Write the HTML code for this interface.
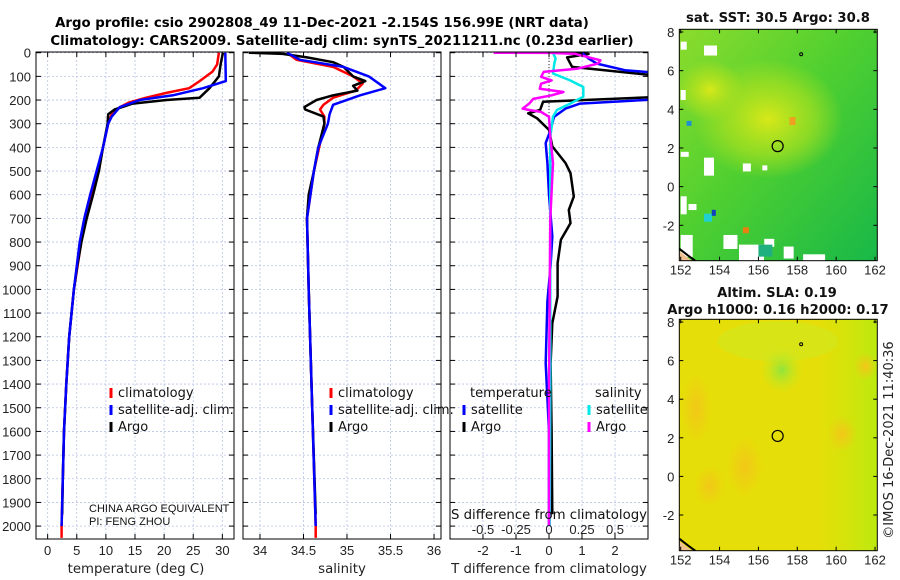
<!DOCTYPE html>
<html><head><meta charset="utf-8">
<style>
body{margin:0;background:#fff;}
svg{display:block;font-family:"Liberation Sans","DejaVu Sans",sans-serif;}
.dv{font-family:"DejaVu Sans","Liberation Sans",sans-serif;}
</style></head>
<body>
<svg id="fig" width="900" height="580" viewBox="0 0 900 580" xmlns="http://www.w3.org/2000/svg">
<defs>
<radialGradient id="sstYellow" cx="0.5" cy="0.5" r="0.5">
<stop offset="0" stop-color="#d8e818"/><stop offset="0.6" stop-color="#a8e020" stop-opacity="0.7"/><stop offset="1" stop-color="#a8e020" stop-opacity="0"/></radialGradient>
<linearGradient id="sstBase" x1="0" y1="0" x2="1" y2="1">
<stop offset="0" stop-color="#8cdc2c"/><stop offset="0.45" stop-color="#50d030"/><stop offset="1" stop-color="#18b848"/></linearGradient>
<radialGradient id="slaGreen" cx="0.5" cy="0.5" r="0.5">
<stop offset="0" stop-color="#90e43c"/><stop offset="1" stop-color="#c8ea20" stop-opacity="0"/></radialGradient>
<radialGradient id="slaOrange" cx="0.5" cy="0.5" r="0.5">
<stop offset="0" stop-color="#f2c818"/><stop offset="1" stop-color="#f2c818" stop-opacity="0"/></radialGradient>
<linearGradient id="slaRight" x1="0" y1="0" x2="1" y2="0">
<stop offset="0.7" stop-color="#c0ec10" stop-opacity="0"/><stop offset="1" stop-color="#b0ec10"/></linearGradient>
</defs>
<g id="titles" class="dv" font-weight="bold" font-size="13.3" text-anchor="middle">
<text x="322" y="27">Argo profile: csio 2902808_49 11-Dec-2021 -2.154S 156.99E (NRT data)</text>
<text x="342" y="45">Climatology: CARS2009. Satellite-adj clim: synTS_20211211.nc (0.23d earlier)</text>
</g>
<g id="p1"></g>
<g id="p2"></g>
<g id="p3"></g>
<g id="m1"></g>
<g id="m2"></g>
<text x="893" y="440" class="dv" transform="rotate(-90 893 440)" text-anchor="middle" font-size="13" fill="#222">©IMOS 16-Dec-2021 11:40:36</text>
</svg>
<script>
// ---- data ----
const depthTicks = [0,100,200,300,400,500,600,700,800,900,1000,1100,1200,1300,1400,1500,1600,1700,1800,1900,2000];
const tempTicks = [0,5,10,15,20,25,30];
const salTicks = [34,34.5,35,35.5,36];
const salTickLabels = ["34","34.5","35","35.5","36"];
const tdiffTicks = [-2,-1,0,1,2];
const sdiffTicks = [-0.5,-0.25,0,0.25,0.5];
const sdiffTickLabels = ["-0.5","-0.25","0","0.25","0.5"];

const tArgoDepth = [0,50,100,150,190,200,215,240,260,300,400,500,600,700,800,900,1000,1200,1400,1600,1800,1950];
const tArgo      = [30.1,29.7,29.4,27.8,26.1,20.4,14.6,11.5,10.4,10.3,9.5,8.8,7.8,6.7,5.8,5.1,4.5,3.7,3.2,2.8,2.6,2.5];
const tClimDepth = [0,50,80,120,150,170,190,210,230,260,300,400,500,700,1000,1200,1400,1600,1800,2000,2050];
const tClim      = [29.4,29.1,28.3,26.1,24.3,20.4,16.9,14.0,12.4,11.0,10.4,9.5,8.7,6.4,4.5,3.7,3.2,2.8,2.6,2.4,2.4];
const tSatDepth  = [0,120,150,180,200,230,270,300,400,500,600,700,800,1000,1200,1400,1600,1800,2000];
const tSat       = [30.5,30.6,26.7,21.5,15.8,12.4,11.0,10.4,9.5,8.4,7.3,6.3,5.5,4.5,3.7,3.2,2.8,2.6,2.4];

const sArgoDepth = [0,5,20,40,60,100,120,140,160,180,200,230,240,270,300,400,500,600,700,1000,1500,1950];
const sArgo      = [33.87,34.26,34.54,34.84,34.96,35.07,35.21,35.07,35.12,34.84,34.65,34.51,34.52,34.73,34.74,34.67,34.62,34.56,34.54,34.56,34.60,34.64];
const sClimDepth = [0,30,60,100,130,160,190,220,240,270,300,500,700,1000,1500,2000,2050];
const sClim      = [34.31,34.42,34.84,35.07,35.18,35.10,34.84,34.73,34.69,34.74,34.74,34.62,34.54,34.56,34.60,34.64,34.64];
const sSatDepth  = [0,30,60,100,150,180,220,260,300,400,500,700,1000,1500,2000];
const sSat       = [34.31,34.46,34.96,35.25,35.44,35.15,34.84,34.80,34.78,34.67,34.62,34.54,34.56,34.60,34.64];

const dTArgoDepth = [0,5,20,60,100,186,207,242,256,277,326,396,466,509,608,664,720,790,889,1030,1143,1312,1600,1950];
const dTArgo      = [0.2,1.2,0.55,0.7,3.5,3.5,-0.18,-0.27,-0.63,-0.36,0,0.1,0.5,0.65,0.75,0.6,0.65,0.36,0.26,0.26,0.1,0.05,0.08,0.1];
const dTSatDepth  = [0,25,46,74,88,195,215,236,271,326,382,466,600,776,900,1050,1312,1600,2000];
const dTSat       = [1.0,1.2,1.45,2.3,3.5,3.5,0.94,0.5,0.15,0.05,-0.1,-0.05,0,0.1,0.05,-0.05,-0.1,0,0];
const dSSatDepth  = [0,25,46,88,117,145,186,215,242,271,355,800,1400,2000];
const dSSat       = [0.03,0.05,0.04,0.03,0.16,0.26,0.26,0.16,0.06,0.03,0.01,0.01,0.01,0.005];
const dSArgoDepth = [0,1,5,32,46,67,81,102,117,131,152,166,180,195,215,236,242,250,271,355,466,700,1400,2000];
const dSArgo      = [-0.42,0.02,0.2,0.39,0.37,0.22,-0.04,-0.06,0.02,-0.06,-0.07,0.11,0.02,-0.12,-0.15,-0.2,-0.15,-0.06,0,0.01,0.03,0.01,0.0,0.0];

const argoLon = 156.99, argoLat = -2.154 + 4.25; // plotted position on map
const lonTicks = [152,154,156,158,160,162];
const latTicks = [-2,0,2,4,6,8];

// ---- helpers ----
const NS='http://www.w3.org/2000/svg';
function mk(tag, attrs, parent){const e=document.createElementNS(NS,tag);for(const k in attrs)e.setAttribute(k,attrs[k]);if(parent)parent.appendChild(e);return e;}
const Y0=52.7, YK=0.2367;
const yD = d => Y0 + d*YK;

function panel(g, x0, x1, xmin, xmax, gridXs, clipId){
  const xs = v => x0 + (v-xmin)/(xmax-xmin)*(x1-x0);
  const top=52, bot=539;
  const grid = mk('g',{stroke:'#b8c4e8','stroke-width':0.8,'stroke-dasharray':'2,2'},g);
  
  
  gridXs.forEach(v=>mk('line',{x1:xs(v),x2:xs(v),y1:top,y2:bot},grid));
  depthTicks.forEach(d=>mk('line',{x1:x0,x2:x1,y1:yD(d),y2:yD(d)},grid));
  const ticks = mk('g',{stroke:'#000','stroke-width':1},g);
  
  
  depthTicks.forEach(d=>{mk('line',{x1:x0,x2:x0+5,y1:yD(d),y2:yD(d)},ticks);mk('line',{x1:x1-5,x2:x1,y1:yD(d),y2:yD(d)},ticks);});
  const cp = mk('clipPath',{id:clipId},g); mk('rect',{x:x0,y:top,width:x1-x0,height:bot-top},cp);
  return {xs, top, bot, clip:'url(#'+clipId+')'};
}
function line(g, P, xsArr, dArr, color, w, name){
  let d='';
  for(let i=0;i<xsArr.length;i++){d+=(i?'L':'M')+P.xs(xsArr[i]).toFixed(1)+','+yD(dArr[i]).toFixed(1);}
  const p = mk('path',{d:d,fill:'none',stroke:color,'stroke-width':w,'stroke-linejoin':'round','clip-path':P.clip},g);
  
  
}
function frame(g,x0,x1,top,bot){const r=mk('rect',{x:x0,y:top,width:x1-x0,height:bot-top,fill:'none',stroke:'#000','stroke-width':1},g);}
function xlabels(g,P,vals,labels,y){vals.forEach((v,i)=>{const t=mk('text',{x:P.xs(v),y:y,'text-anchor':'middle','font-size':13,fill:'#222'},g);t.textContent=labels?labels[i]:String(v);});}
function xtickmarks(g,P,vals){vals.forEach(v=>{mk('line',{x1:P.xs(v),x2:P.xs(v),y1:P.bot,y2:P.bot-5,stroke:'#000'},g);mk('line',{x1:P.xs(v),x2:P.xs(v),y1:P.top,y2:P.top+5,stroke:'#000'},g);});}
function txt(g,x,y,s,size,name,extra){const t=mk('text',Object.assign({x:x,y:y,'font-size':size,fill:'#111'},extra||{}),g);t.textContent=s;return t;}
function legendItem(g,x,y,color,label,name){const gg=mk('g',{},g);mk('rect',{x:x-1.5,y:y-9,width:3,height:10,fill:color},gg);txt(gg,x+7,y,label,13,name+'-label',{'class':'dv'});}

// ---- panel 1 temperature ----
const g1=document.getElementById('p1');
const P1=panel(g1,36,234,-2,32,tempTicks,'c1');
depthTicks.forEach(d=>{txt(g1,31,yD(d)+5,String(d),13,'y-tick-label',{'text-anchor':'end',fill:'#222'});});
line(g1,P1,tClim,tClimDepth,'#ff0000',2.5,'temp-climatology-line');
line(g1,P1,tArgo,tArgoDepth,'#000',2.5,'temp-argo-line');
line(g1,P1,tSat,tSatDepth,'#0000ff',2.5,'temp-satellite-line');
frame(g1,36,234,52,539); xtickmarks(g1,P1,tempTicks);
xlabels(g1,P1,tempTicks,null,555);
txt(g1,136,573,'temperature (deg C)',13.3,'x-axis-title',{'text-anchor':'middle',fill:'#222','class':'dv'});
legendItem(g1,111,397,'#ff0000','climatology','legend-climatology');
legendItem(g1,111,414,'#0000ff','satellite-adj. clim.','legend-satellite');
legendItem(g1,111,431,'#000','Argo','legend-argo');
txt(g1,89,512,'CHINA ARGO EQUIVALENT',11,'pi-note-line1');
txt(g1,89,525,'PI: FENG ZHOU',11,'pi-note-line2');

// ---- panel 2 salinity ----
const g2=document.getElementById('p2');
const P2=panel(g2,243,441,33.805,36.08,salTicks,'c2');
line(g2,P2,sClim,sClimDepth,'#ff0000',2.5,'sal-climatology-line');
line(g2,P2,sArgo,sArgoDepth,'#000',2.5,'sal-argo-line');
line(g2,P2,sSat,sSatDepth,'#0000ff',2.5,'sal-satellite-line');
frame(g2,243,441,52,539); xtickmarks(g2,P2,salTicks);
xlabels(g2,P2,salTicks,salTickLabels,555);
txt(g2,342,573,'salinity',13.3,'x-axis-title',{'text-anchor':'middle',fill:'#222','class':'dv'});
legendItem(g2,331,397,'#ff0000','climatology','legend-climatology');
legendItem(g2,331,414,'#0000ff','satellite-adj. clim.','legend-satellite');
legendItem(g2,331,431,'#000','Argo','legend-argo');

// ---- panel 3 differences ----
const g3=document.getElementById('p3');
const P3=panel(g3,450,648,-3,3,tdiffTicks,'c3');
const PS={xs:v=>P3.xs(v*4),clip:P3.clip};
mk('line',{x1:P3.xs(0),x2:P3.xs(0),y1:52,y2:130,stroke:'#333','stroke-dasharray':'1,2'},g3);
line(g3,P3,dTArgo,dTArgoDepth,'#000',2.5,'tdiff-argo-line');
line(g3,P3,dTSat,dTSatDepth,'#0000ff',2.5,'tdiff-satellite-line');
line(g3,PS,dSSat,dSSatDepth,'#00e8e8',2.5,'sdiff-satellite-line');
line(g3,PS,dSArgo,dSArgoDepth,'#ff00ff',2.5,'sdiff-argo-line');
frame(g3,450,648,52,539); xtickmarks(g3,P3,tdiffTicks);
xlabels(g3,P3,tdiffTicks,null,555);
xlabels(g3,PS,sdiffTicks,sdiffTickLabels,534);
txt(g3,549,519,'S difference from climatology',13.3,'s-diff-axis-title',{'text-anchor':'middle','class':'dv'});
txt(g3,549,573,'T difference from climatology',13.3,'x-axis-title',{'text-anchor':'middle',fill:'#222','class':'dv'});
txt(g3,470,397,'temperature',13,'legend-temperature-heading',{'class':'dv'});
legendItem(g3,464,414,'#0000ff','satellite','legend-t-satellite');
legendItem(g3,464,431,'#000','Argo','legend-t-argo');
txt(g3,595,397,'salinity',13,'legend-salinity-heading',{'class':'dv'});
legendItem(g3,589,414,'#00e8e8','satellite','legend-s-satellite');
legendItem(g3,589,431,'#ff00ff','Argo','legend-s-argo');

// ---- maps ----
function map(g, top, bot, lat8y, latm2y, titleLines, kind){
  const x0=679.3, x1=877.3;
  const lx = v => 680.7 + (v-152)*(875-680.7)/10;
  const ly = v => lat8y + (8-v)*(latm2y-lat8y)/10;
  const cp=mk('clipPath',{id:'clip'+kind},g); mk('rect',{x:x0,y:top,width:x1-x0,height:bot-top},cp);
  const f=mk('g',{'clip-path':'url(#clip'+kind+')'},g);
  
  
  if(kind==='sst'){
    mk('rect',{x:x0,y:top,width:x1-x0,height:bot-top,fill:'url(#sstBase)'},f);
    mk('ellipse',{cx:lx(156.5),cy:ly(3.5),rx:75,ry:60,fill:'url(#sstYellow)'},f);
    mk('ellipse',{cx:lx(153.5),cy:ly(5),rx:35,ry:30,fill:'url(#sstYellow)'},f);
    mk('rect',{x:lx(157.6),y:ly(3.6),width:6,height:8,fill:'#f0a020'},f);
    mk('rect',{x:lx(152.3),y:ly(3.4),width:5,height:5,fill:'#2090d0'},f);
    mk('rect',{x:lx(153.2),y:ly(-1.4),width:8,height:8,fill:'#20d0d0'},f);
    mk('rect',{x:lx(153.6),y:ly(-1.2),width:4,height:6,fill:'#1040c0'},f);
    mk('rect',{x:lx(155.2),y:ly(-2.1),width:6,height:6,fill:'#e88010'},f);
    const white=[[152,7.5,6,8],[153.2,7.3,13,10],[152,5,5,10],[152,1.8,8,5],[153.2,1.5,10,18],[155.2,1.2,8,8],[156.2,1.1,5,5],[152,-0.5,6,18],[152.4,-0.9,8,6],[152,-2.5,12,22],[154.2,-2.5,14,14],[156.3,-2.7,10,8],[155,-3,25,18],[157.3,-3.1,10,12],[158.3,-3.5,22,10]];
    white.forEach(w=>mk('rect',{x:lx(w[0]),y:ly(w[1]),width:w[2],height:w[3],fill:'#fff'},f));
    mk('rect',{x:lx(156),y:ly(-3),width:14,height:12,fill:'#20b080'},f);
  } else {
    mk('rect',{x:x0,y:top,width:x1-x0,height:bot-top,fill:'#e6de08'},f);
    mk('rect',{x:x0,y:top,width:x1-x0,height:bot-top,fill:'url(#slaRight)','opacity':0.8},f);
    mk('ellipse',{cx:lx(157),cy:ly(7),rx:60,ry:20,fill:'#d0e820',opacity:0.6},f);
    mk('ellipse',{cx:lx(157.2),cy:ly(5.5),rx:22,ry:24,fill:'url(#slaGreen)'},f);
    mk('ellipse',{cx:lx(152.8),cy:ly(3.5),rx:15,ry:35,fill:'url(#slaOrange)'},f);
    mk('ellipse',{cx:lx(155.3),cy:ly(0.5),rx:18,ry:30,fill:'url(#slaOrange)'},f);
    mk('ellipse',{cx:lx(153.5),cy:ly(-0.5),rx:15,ry:20,fill:'url(#slaOrange)'},f);
    mk('ellipse',{cx:lx(160.3),cy:ly(2.2),rx:15,ry:18,fill:'url(#slaOrange)'},f);
    mk('ellipse',{cx:lx(161.5),cy:ly(5.7),rx:12,ry:14,fill:'url(#slaOrange)'},f);
  }
  mk('path',{d:`M${x0},${bot-12} Q${x0+10},${bot-4} ${x0+16},${bot}`,fill:'none',stroke:'#000','stroke-width':2},f);
  mk('path',{d:`M${x0},${bot-10} Q${x0+8},${bot-3} ${x0+13},${bot} L${x0},${bot}Z`,fill:'#f0c090'},f);
  mk('circle',{cx:lx(158.2),cy:ly(6.85),r:1.5,fill:'none',stroke:'#000'},f);
  const c=mk('circle',{cx:lx(argoLon),cy:ly(argoLat),r:5.5,fill:'none',stroke:'#000','stroke-width':1.2},g);
  
  
  frame(g,x0,x1,top,bot);
  lonTicks.forEach(v=>{mk('line',{x1:lx(v),x2:lx(v),y1:bot,y2:bot-4,stroke:'#000'},g);mk('line',{x1:lx(v),x2:lx(v),y1:top,y2:top+4,stroke:'#000'},g);txt(g,lx(v),bot+14,String(v),13,'lon-tick-label',{'text-anchor':'middle',fill:'#222'});});
  latTicks.forEach(v=>{mk('line',{x1:x0,x2:x0+4,y1:ly(v),y2:ly(v),stroke:'#000'},g);mk('line',{x1:x1-4,x2:x1,y1:ly(v),y2:ly(v),stroke:'#000'},g);txt(g,x0-5,ly(v)+5,String(v),13,'lat-tick-label',{'text-anchor':'end',fill:'#222'});});
  titleLines.forEach((t,i)=>txt(g,t[1],t[2],t[0],13.2,kind+'-map-title-'+(i+1),{'text-anchor':'middle','font-weight':'bold','class':'dv'}));
}
map(document.getElementById('m1'),29.3,260.7,32,225.3,[['sat. SST: 30.5 Argo: 30.8',778,22]],'sst');
map(document.getElementById('m2'),319.3,550.7,322,515,[['Altim. SLA: 0.19',777,297],['Argo h1000: 0.16 h2000: 0.17',778,314]],'sla');
</script>
</body></html>
